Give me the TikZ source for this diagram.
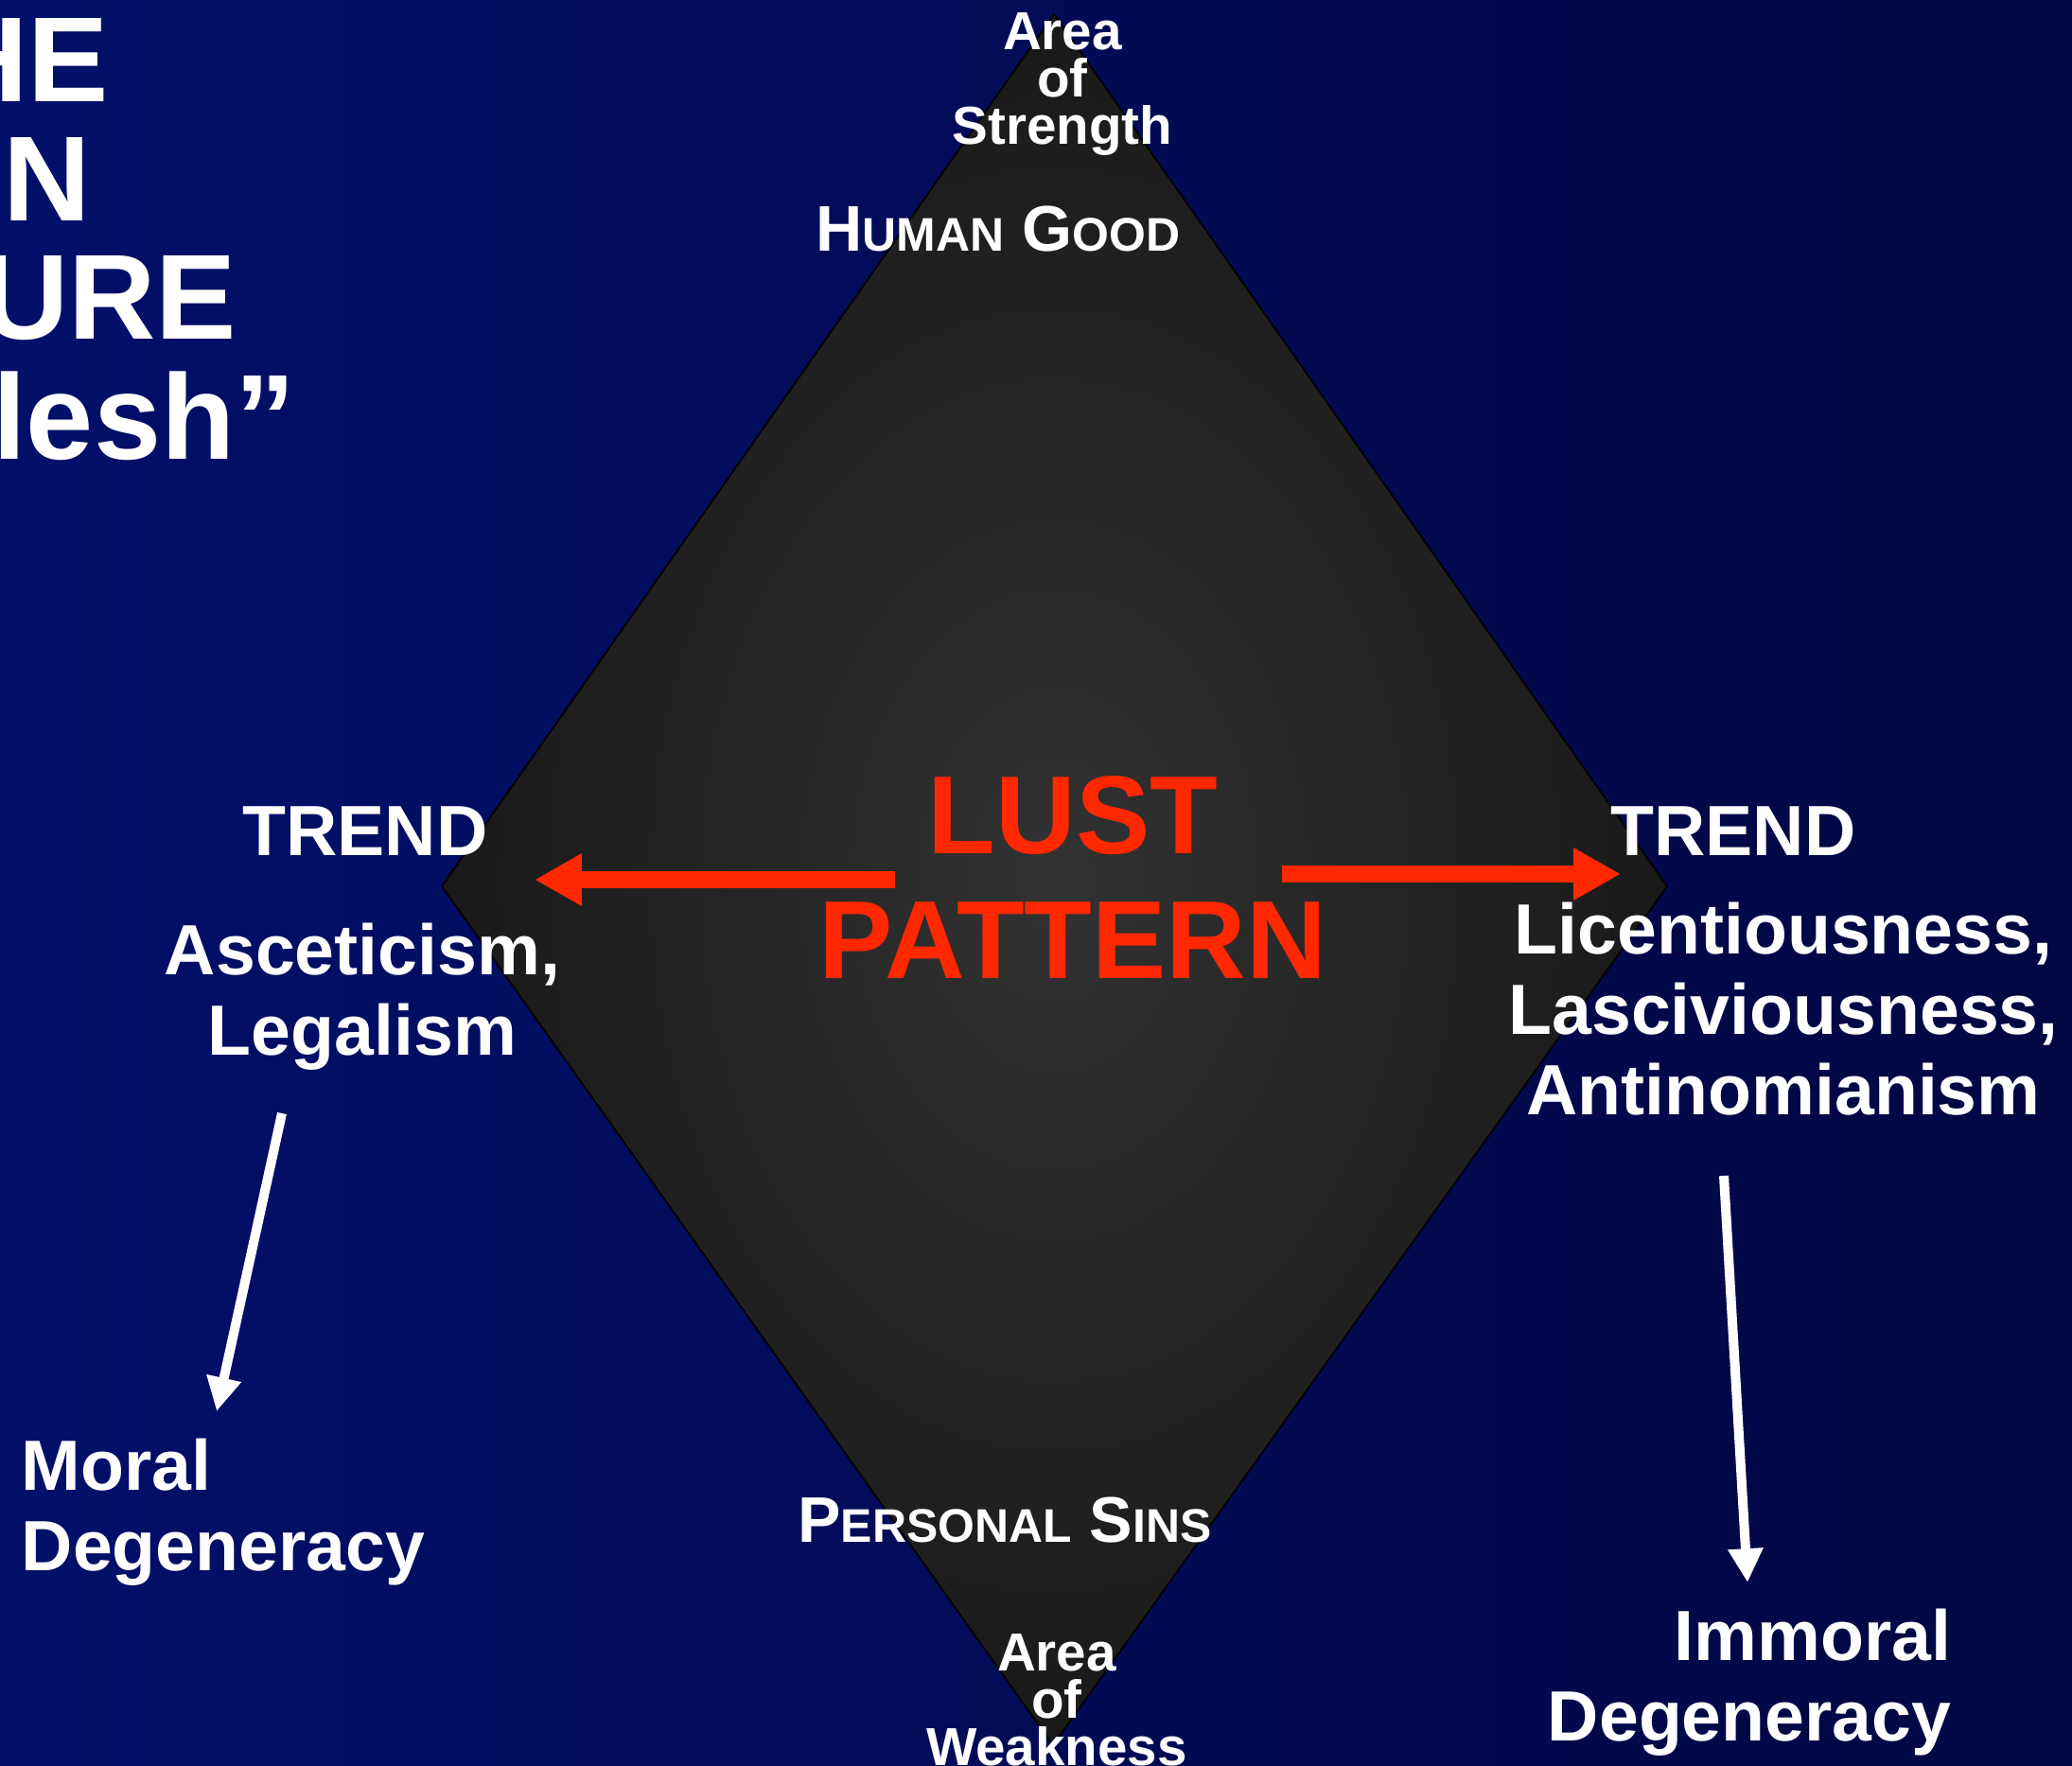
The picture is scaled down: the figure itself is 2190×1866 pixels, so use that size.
\documentclass[tikz,border=0pt]{standalone}
\usepackage{fontspec}
\setmainfont{Liberation Sans}
\usetikzlibrary{arrows.meta,positioning,calc}

\definecolor{bgleft}{RGB}{3,16,106}
\definecolor{bgright}{RGB}{0,7,66}
\definecolor{lustred}{RGB}{255,40,0}
\definecolor{gemin}{RGB}{50,50,50}
\definecolor{gemout}{RGB}{25,25,25}

\newcommand{\lowcaps}[1]{{\fontsize{14.2}{18}\selectfont #1}}

\begin{document}
\begin{tikzpicture}[x=0.1mm,y=-0.1mm,
    every node/.style={inner sep=0pt, text=white},
    titletext/.style={font=\bfseries\fontsize{36.4}{40}\selectfont},
    areatext/.style={align=center, font=\bfseries\fontsize{16.1}{14.2}\selectfont},
    sctext/.style={font=\bfseries\fontsize{19.4}{24}\selectfont},
    trendtext/.style={align=center, font=\bfseries\fontsize{21.4}{24.2}\selectfont},
    redarrow/.style={draw=lustred, line width=5.1pt, -{Triangle[length=14.2pt,width=14.8pt]}},
    whitearrow/.style={draw=white, line width=2.85pt, -{Triangle[length=10.2pt,width=10pt]}}]

    \useasboundingbox (0,0) rectangle (2190,1866);
    \fill[left color=bgleft, right color=bgright] (0,0) rectangle (2190,1866);

    % the diamond
    \coordinate (top)    at (1114,15);
    \coordinate (right)  at (1762,937);
    \coordinate (bottom) at (1113,1845);
    \coordinate (left)   at (467,937);
    \shade[inner color=gemin, outer color=gemout, draw=black, line width=0.5pt]
        (top) -- (right) -- (bottom) -- (left) -- cycle;

    % slide title, cut at the left edge
    \node[titletext, anchor=base east] (tHE)    at (116,108) {HE};
    \node[titletext, anchor=base east] (tN)     at (97,233)  {N};
    \node[titletext, anchor=base east] (tURE)   at (251,358) {URE};
    \node[titletext, anchor=base east] (tflesh) at (313,485) {lesh”};

    \node[areatext, anchor=north] (strength) at (1123,13)   {Area\\of\\Strength};
    \node[sctext, anchor=north]   (good)     at (1055,217)  {H\lowcaps{UMAN} G\lowcaps{OOD}};
    \node[sctext, anchor=north]   (sins)     at (1062,1582) {P\lowcaps{ERSONAL} S\lowcaps{INS}};
    \node[areatext, anchor=north] (weakness) at (1117,1727) {Area\\of\\Weakness};

    \node[anchor=north, align=center, text=lustred,
          font=\bfseries\fontsize{33.4}{37.6}\selectfont] (lust) at (1134,820) {LUST\\PATTERN};

    \node[trendtext, anchor=north] (ltrend) at (386,852)  {TREND};
    \node[trendtext, anchor=north] (ascet)  at (383,975)  {Asceticism,\\Legalism};
    \node[trendtext, anchor=north] (rtrend) at (1832,852) {TREND};
    \node[trendtext, anchor=north] (licent) at (1885,953) {Licentiousness,\\Lasciviousness,\\Antinomianism};

    \node[trendtext, align=left, anchor=north west]  (moral)   at (22,1520)   {Moral\\Degeneracy};
    \node[trendtext, align=right, anchor=north east] (immoral) at (2063,1700) {Immoral\\Degeneracy};

    % arrows
    \coordinate (lfrom) at (946,930);
    \coordinate (lto)   at (565,930);
    \coordinate (rfrom) at (1355,924);
    \coordinate (rto)   at (1713,924);
    \draw[redarrow] (lfrom) -- (lto);
    \draw[redarrow] (rfrom) -- (rto);

    \coordinate (ascend) at (298,1177);
    \coordinate (moraltip) at (229,1492);
    \coordinate (licend) at (1822,1243);
    \coordinate (immtip) at (1847,1673);
    \draw[whitearrow] (ascend) -- (moraltip);
    \draw[whitearrow] (licend) -- (immtip);
\end{tikzpicture}
\end{document}
